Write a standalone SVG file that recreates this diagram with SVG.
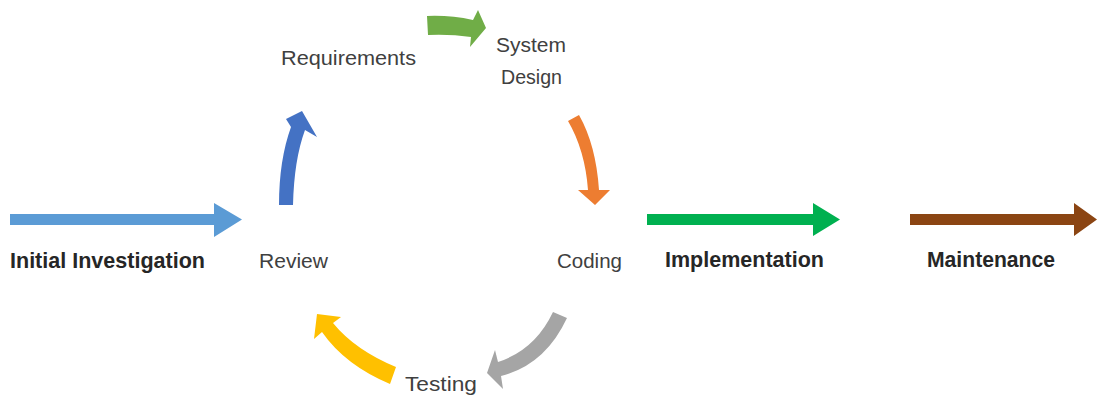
<svg xmlns="http://www.w3.org/2000/svg" width="1097" height="399" viewBox="0 0 1097 399">
<style>
.lbl{font-family:"Liberation Sans",Arial,sans-serif;font-size:20px;fill:#404040;}
.bold{font-family:"Liberation Sans",Arial,sans-serif;font-size:22px;font-weight:bold;fill:#262626;}
</style>
<rect width="1097" height="399" fill="#ffffff"/>
<g id="connectors">
  <path d="M10,214 L214,214 L214,203 L242,219.5 L214,237 L214,225 L10,225 Z" fill="#5B9BD5"/>
  <path d="M279,205 Q279,160 291,127 L286,119 L302,111 L317,137 L305,130 Q294,160 293,205 Z" fill="#4472C4"/>
  <path d="M427,16 Q450,15 473,20 L478,10 L486,28 L470,47 L471,37 Q450,34 428,35 Z" fill="#70AD47"/>
  <path d="M568,121 L579,115 Q596,145 599,190 L610,190 L595,205 L578,190 L588,190 Q585,150 568,121 Z" fill="#ED7D31"/>
  <path d="M487,373 L495,350 L498,362 Q535,350 553,312 L567,318 Q545,365 501,376 L503,389 Z" fill="#A5A5A5"/>
  <path d="M317,314 L341,317 L333,323 Q355,350 396,367 L390,384 Q345,365 322,332 L314,339 Z" fill="#FFC000"/>
  <path d="M647,214 L813,214 L813,203 L840,219.5 L813,236 L813,225 L647,225 Z" fill="#00B050"/>
  <path d="M910,214 L1074,214 L1074,203 L1097,219.5 L1074,236 L1074,225 L910,225 Z" fill="#8B4513"/>
</g>
<g id="initial-investigation"><text class="bold" x="10" y="268" textLength="195" lengthAdjust="spacingAndGlyphs">Initial Investigation</text></g>
<g id="requirements"><text class="lbl" x="281" y="65" textLength="135" lengthAdjust="spacingAndGlyphs">Requirements</text></g>
<g id="system-design"><text class="lbl" x="496" y="52" textLength="70" lengthAdjust="spacingAndGlyphs">System</text><text class="lbl" x="501" y="84" textLength="61" lengthAdjust="spacingAndGlyphs">Design</text></g>
<g id="coding"><text class="lbl" x="557" y="268" textLength="65" lengthAdjust="spacingAndGlyphs">Coding</text></g>
<g id="testing"><text class="lbl" x="405" y="391" textLength="72" lengthAdjust="spacingAndGlyphs">Testing</text></g>
<g id="review"><text class="lbl" x="259" y="268" textLength="69" lengthAdjust="spacingAndGlyphs">Review</text></g>
<g id="implementation"><text class="bold" x="665" y="267" textLength="159" lengthAdjust="spacingAndGlyphs">Implementation</text></g>
<g id="maintenance"><text class="bold" x="927" y="267" textLength="128" lengthAdjust="spacingAndGlyphs">Maintenance</text></g>
</svg>
